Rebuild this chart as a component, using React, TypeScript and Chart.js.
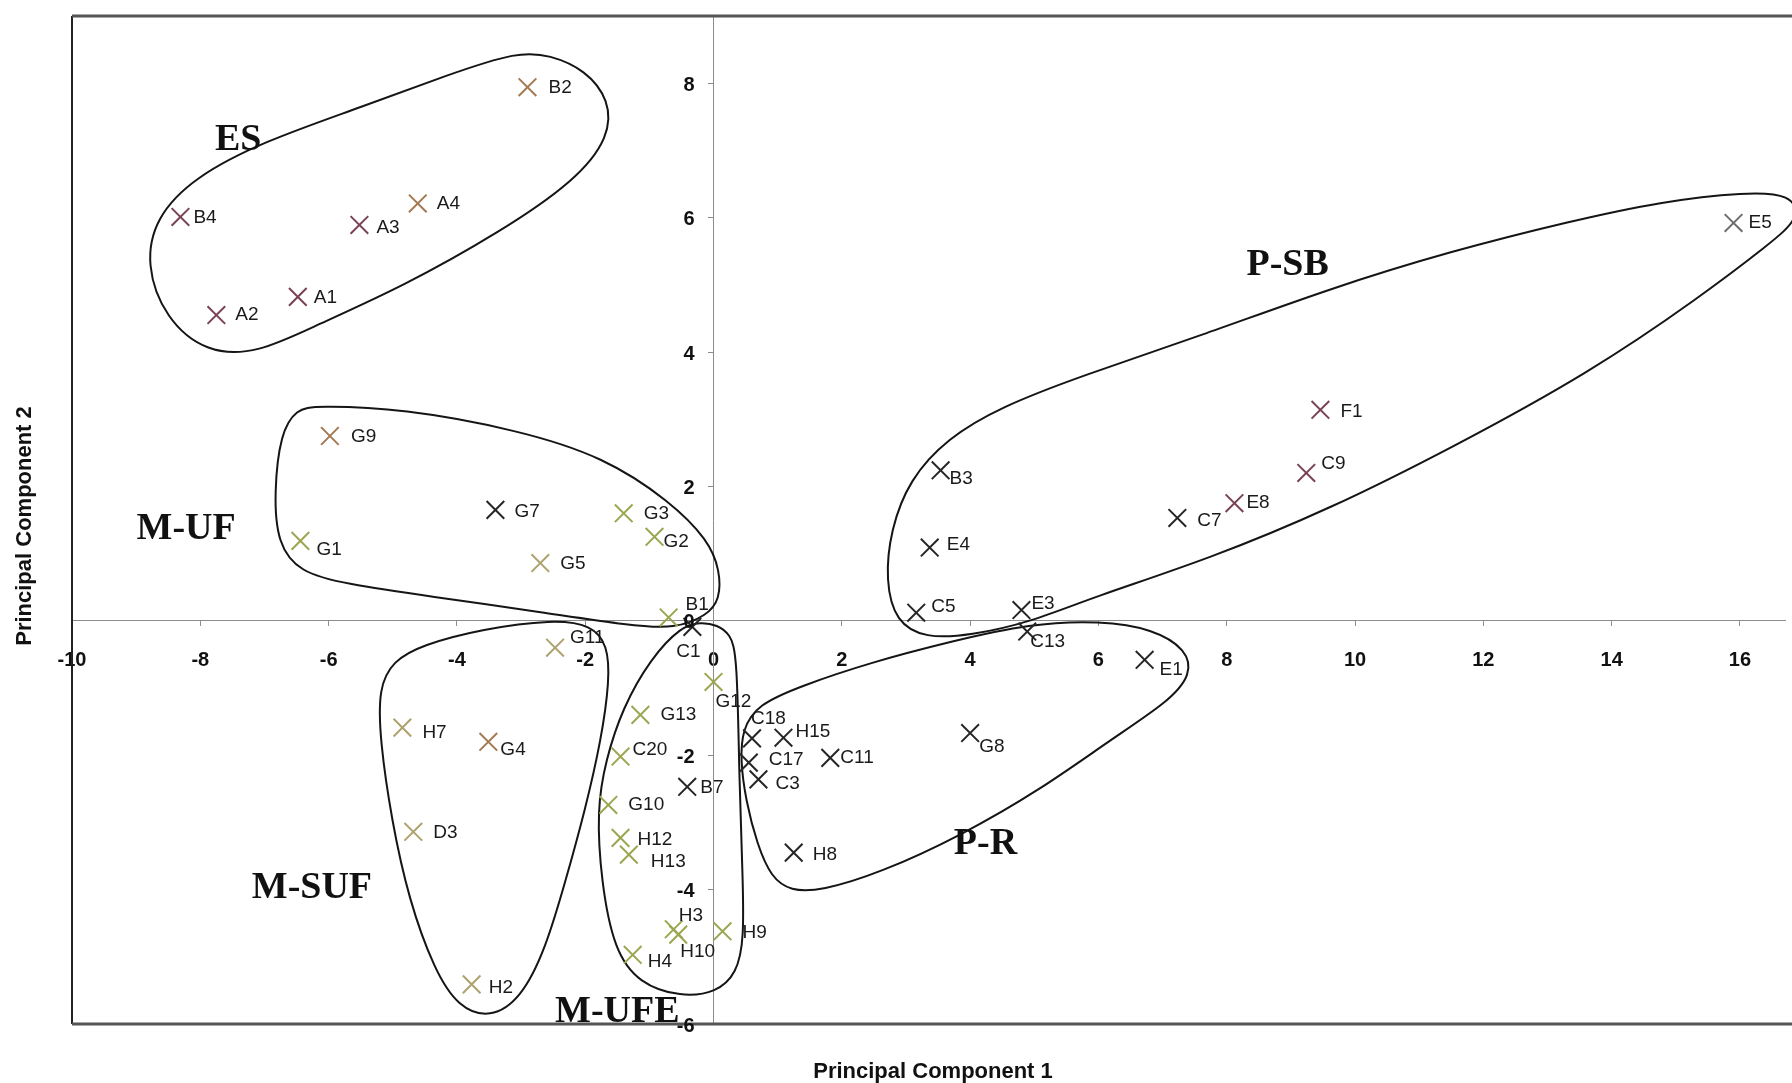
import React, { useEffect, useRef } from 'react';
import { Chart, registerables } from 'chart.js';

Chart.register(...registerables);

const SANS = "'Liberation Sans', Arial, sans-serif";
const SERIF = "'Liberation Serif', 'Times New Roman', serif";

// ---------- data (PC1 = x, PC2 = y) ----------
const mauveLabels = ['B4', 'A2', 'A1', 'A3', 'E8', 'C9', 'F1'];
const mauvePC1 = [-8.31, -7.75, -6.48, -5.52, 8.12, 9.24, 9.46];
const mauvePC2 = [6.01, 4.55, 4.82, 5.89, 1.75, 2.2, 3.14];

const brownLabels = ['B2', 'A4', 'G9', 'G4'];
const brownPC1 = [-2.9, -4.61, -5.98, -3.51];
const brownPC2 = [7.94, 6.21, 2.75, -1.8];

const khakiLabels = ['G5', 'G11', 'H7', 'D3', 'H2'];
const khakiPC1 = [-2.7, -2.47, -4.85, -4.68, -3.77];
const khakiPC2 = [0.86, -0.4, -1.59, -3.14, -5.41];

const oliveLabels = ['G1', 'G3', 'G2', 'B1', 'G12', 'G13', 'C20', 'G10', 'H12', 'H13', 'H3', 'H10', 'H9', 'H4'];
const olivePC1 = [-6.44, -1.4, -0.92, -0.7, 0.0, -1.14, -1.45, -1.64, -1.45, -1.32, -0.62, -0.55, 0.14, -1.26];
const olivePC2 = [1.19, 1.6, 1.25, 0.05, -0.91, -1.4, -2.02, -2.74, -3.23, -3.48, -4.59, -4.67, -4.62, -4.97];

const darkLabels = ['G7', 'C1', 'B7', 'C18', 'H15', 'C17', 'C3', 'C11', 'H8', 'G8', 'E1', 'C13', 'E3', 'C5', 'E4', 'B3', 'C7'];
const darkPC1 = [-3.4, -0.33, -0.41, 0.6, 1.09, 0.55, 0.7, 1.82, 1.25, 4.0, 6.72, 4.89, 4.8, 3.16, 3.37, 3.54, 7.23];
const darkPC2 = [1.65, -0.09, -2.47, -1.75, -1.74, -2.11, -2.36, -2.04, -3.45, -1.67, -0.58, -0.16, 0.16, 0.12, 1.09, 2.24, 1.53];

const grayLabels = ['E5'];
const grayPC1 = [15.9];
const grayPC2 = [5.92];

// ---------- group annotations ----------
const groupNames = ['ES', 'M-UF', 'M-SUF', 'M-UFE', 'P-SB', 'P-R'];
const groupPC1 = [-7.41, -8.22, -6.26, -1.5, 8.95, 4.24];
const groupPC2 = [7.15, 1.37, -3.98, -5.83, 5.29, -3.33];

const esOutline: [number, number][] = [
  [-2.55, 8.42], [-2.0, 8.2], [-1.62, 7.75], [-1.62, 7.2], [-2.15, 6.55], [-3.3, 5.8], [-4.85, 4.97],
  [-6.19, 4.4], [-7.1, 3.98], [-7.9, 3.98], [-8.55, 4.5], [-8.85, 5.3], [-8.7, 6.0],
  [-8.1, 6.6], [-7.0, 7.14], [-5.56, 7.62], [-4.1, 8.14], [-3.05, 8.47],
];
const mufOutline: [number, number][] = [
  [-6.2, 3.2], [-4.85, 3.16], [-3.05, 2.84], [-1.71, 2.44], [-0.68, 1.78], [-0.08, 1.2],
  [0.1, 0.75], [0.1, 0.32], [-0.1, 0.08], [-0.6, -0.12], [-1.3, -0.07], [-2.62, 0.12],
  [-4.39, 0.36], [-5.75, 0.55], [-6.45, 0.72], [-6.8, 1.15], [-6.85, 1.9], [-6.75, 2.8], [-6.5, 3.15],
];
const msufOutline: [number, number][] = [
  [-2.5, 0.02], [-1.9, -0.06], [-1.65, -0.36], [-1.62, -0.88], [-1.75, -1.77], [-2.0, -2.81],
  [-2.3, -3.85], [-2.62, -4.89], [-3.0, -5.62], [-3.48, -5.92], [-3.98, -5.75], [-4.35, -5.2],
  [-4.75, -4.15], [-5.02, -2.96], [-5.2, -1.77], [-5.22, -1.0], [-5.0, -0.6], [-4.55, -0.36], [-3.6, -0.12],
];
const mufeOutline: [number, number][] = [
  [-0.5, -0.08], [-0.98, -0.56], [-1.42, -1.3], [-1.68, -2.07], [-1.82, -2.81], [-1.75, -3.89],
  [-1.55, -4.9], [-1.16, -5.4], [-0.51, -5.6], [0.05, -5.53], [0.36, -5.25], [0.48, -4.74],
  [0.45, -3.66], [0.4, -2.36], [0.37, -0.5], [0.26, -0.2], [0.06, -0.06], [-0.2, -0.02],
];
const prOutline: [number, number][] = [
  [0.45, -1.62], [0.68, -1.25], [1.36, -0.97], [2.45, -0.62], [3.69, -0.31], [4.94, -0.04],
  [6.03, 0.0], [6.85, -0.12], [7.38, -0.43], [7.45, -0.8], [7.1, -1.2], [6.19, -1.77],
  [5.1, -2.51], [3.85, -3.2], [2.6, -3.75], [1.67, -4.02], [1.2, -4.02], [0.9, -3.82],
  [0.68, -3.33], [0.5, -2.66], [0.42, -2.07],
];
const psbOutline: [number, number][] = [
  [16.1, 6.38], [14.77, 6.24], [13.37, 5.95], [11.49, 5.5], [9.62, 4.95], [7.59, 4.24],
  [5.72, 3.64], [4.47, 3.18], [3.65, 2.72], [3.05, 2.1], [2.76, 1.35], [2.68, 0.6],
  [2.84, -0.02], [3.3, -0.26], [4.0, -0.22], [4.94, -0.02], [5.88, 0.34], [7.75, 0.93],
  [9.62, 1.67], [11.5, 2.57], [13.67, 3.7], [15.38, 4.82], [16.45, 5.6], [16.95, 6.0], [16.8, 6.35],
];
const outlines = [esOutline, mufOutline, msufOutline, mufeOutline, prOutline, psbOutline];

const xTitle = 'Principal Component 1';
const yTitle = 'Principal Component 2';

// label placement (pixel offset of label's left/middle from the marker)
const labelOffsets: Record<string, [number, number]> = {
  B4: [13, 1], A2: [19, 0], A1: [16, 1], A3: [17, 3], A4: [19, 0], B2: [21, 1],
  G9: [21, 1], G7: [19, 2], G3: [20, 0], G2: [9, 5], G1: [16, 9], G5: [20, 1],
  B1: [17, -13], C1: [-16, 25], G12: [2, 20], G11: [15, -10], G13: [20, 0], C20: [12, -7],
  B7: [13, 1], G10: [20, 0], C18: [-1, -20], H15: [12, -6], C11: [10, 0], C17: [20, -3],
  C3: [17, 4], H12: [17, 2], H13: [22, 7], H3: [5, -13], H10: [2, 17], H9: [20, 2],
  H4: [15, 7], H8: [19, 2], H7: [20, 5], G4: [12, 8], D3: [20, 1], H2: [17, 3],
  B3: [9, 8], E4: [17, -3], C5: [15, -6], E3: [10, -6], C13: [3, 10], E1: [15, 10],
  G8: [9, 14], E8: [12, 0], C7: [20, 3], F1: [20, 2], C9: [15, -9], E5: [15, 0],
};

function series(labels: string[], xs: number[], ys: number[], color: string) {
  return {
    label: color,
    names: labels,
    data: xs.map((x, i) => ({ x, y: ys[i] })),
    pointStyle: 'crossRot',
    pointRadius: 12.5,
    pointBorderWidth: 2,
    borderColor: color,
    backgroundColor: color,
    showLine: false,
  };
}

// closed uniform cubic B-spline through the control polygon (smooth outline)
function closedSpline(ctx: CanvasRenderingContext2D, pts: [number, number][]) {
  const n = pts.length;
  const at = (i: number) => pts[((i % n) + n) % n];
  const start = (i: number) => {
    const a = at(i - 1), b = at(i), c = at(i + 1);
    return [(a[0] + 4 * b[0] + c[0]) / 6, (a[1] + 4 * b[1] + c[1]) / 6];
  };
  ctx.beginPath();
  const s0 = start(0);
  ctx.moveTo(s0[0], s0[1]);
  for (let i = 0; i < n; i++) {
    const p1 = at(i), p2 = at(i + 1);
    const e = start(i + 1);
    ctx.bezierCurveTo(
      (2 * p1[0] + p2[0]) / 3, (2 * p1[1] + p2[1]) / 3,
      (p1[0] + 2 * p2[0]) / 3, (p1[1] + 2 * p2[1]) / 3,
      e[0], e[1]
    );
  }
  ctx.closePath();
  ctx.stroke();
}

const decorPlugin = {
  id: 'decor',
  beforeDatasetsDraw(chart: any) {
    const { ctx, chartArea: ca, scales } = chart;
    const xs = scales.x, ys = scales.y;
    ctx.save();
    ctx.strokeStyle = '#151515';
    ctx.lineWidth = 2;
    ctx.lineJoin = 'round';
    outlines.forEach((o) => {
      closedSpline(ctx, o.map(([x, y]) => [xs.getPixelForValue(x), ys.getPixelForValue(y)] as [number, number]));
    });
    // frame
    ctx.strokeStyle = '#222';
    ctx.lineWidth = 2;
    ctx.beginPath();
    ctx.moveTo(ca.left, ca.top);
    ctx.lineTo(ca.left, ca.bottom);
    ctx.stroke();
    ctx.strokeStyle = '#555';
    ctx.lineWidth = 3;
    ctx.beginPath();
    ctx.moveTo(ca.left, ca.top);
    ctx.lineTo(chart.width, ca.top);
    ctx.moveTo(ca.left, ca.bottom);
    ctx.lineTo(chart.width, ca.bottom);
    ctx.stroke();
    ctx.restore();
  },
  afterDatasetsDraw(chart: any) {
    const { ctx, scales } = chart;
    const xs = scales.x, ys = scales.y;
    ctx.save();
    ctx.fillStyle = '#1a1a1a';
    ctx.font = `19px ${SANS}`;
    ctx.textAlign = 'left';
    ctx.textBaseline = 'middle';
    chart.data.datasets.forEach((ds: any, di: number) => {
      const meta = chart.getDatasetMeta(di);
      meta.data.forEach((el: any, i: number) => {
        const name = ds.names[i];
        const off = labelOffsets[name] || [15, 2];
        ctx.fillText(name, el.x + off[0], el.y + off[1]);
      });
    });
    // y tick labels
    const x0 = xs.getPixelForValue(0);
    ctx.font = `bold 20px ${SANS}`;
    ctx.textAlign = 'right';
    ctx.fillStyle = '#111';
    ys.ticks.forEach((t: any) => {
      ctx.fillText(String(t.value), x0 - 19, ys.getPixelForValue(t.value) + 2);
    });
    // group labels
    ctx.font = `bold 38px ${SERIF}`;
    ctx.textAlign = 'center';
    ctx.fillStyle = '#111';
    groupNames.forEach((g, i) => {
      ctx.fillText(g, xs.getPixelForValue(groupPC1[i]), ys.getPixelForValue(groupPC2[i]));
    });
    // axis titles
    ctx.font = `bold 22px ${SANS}`;
    ctx.fillText(xTitle, 933, 1072);
    ctx.translate(25, 526);
    ctx.rotate(-Math.PI / 2);
    ctx.fillText(yTitle, 0, 0);
    ctx.restore();
  },
};

export default function App() {
  const ref = useRef<HTMLCanvasElement>(null);
  useEffect(() => {
    if (!ref.current) return;
    const chart = new Chart(ref.current, {
      type: 'scatter',
      data: {
        datasets: [
          series(mauveLabels, mauvePC1, mauvePC2, '#7a4256'),
          series(brownLabels, brownPC1, brownPC2, '#a47a52'),
          series(khakiLabels, khakiPC1, khakiPC2, '#aea26e'),
          series(oliveLabels, olivePC1, olivePC2, '#9ca650'),
          series(darkLabels, darkPC1, darkPC2, '#262626'),
          series(grayLabels, grayPC1, grayPC2, '#6e6e6e'),
        ] as any,
      },
      options: {
        animation: false,
        responsive: false,
        devicePixelRatio: 1,
        events: [],
        layout: { padding: { left: 72, right: 0, top: 16, bottom: 59 } },
        plugins: { legend: { display: false }, tooltip: { enabled: false } },
        scales: {
          x: {
            type: 'linear',
            min: -10,
            max: 16.71,
            position: { y: 0 } as any,
            border: { display: true, color: '#8c8c8c', width: 1 },
            grid: { drawOnChartArea: false, drawTicks: true, tickLength: 5, color: '#8c8c8c' },
            ticks: {
              stepSize: 2,
              includeBounds: false,
              autoSkip: false,
              maxRotation: 0,
              padding: 23,
              color: '#111',
              font: { family: SANS, size: 20, weight: 'bold' },
            },
          },
          y: {
            type: 'linear',
            min: -6,
            max: 9,
            position: { x: 0 } as any,
            border: { display: true, color: '#8c8c8c', width: 1 },
            grid: { drawOnChartArea: false, drawTicks: true, tickLength: 5, color: '#8c8c8c' },
            ticks: { stepSize: 2, includeBounds: false, display: false },
          },
        },
      },
      plugins: [decorPlugin],
    });
    return () => chart.destroy();
  }, []);
  return (
    <div style={{ position: 'fixed', left: 0, top: 0, width: 1792, height: 1083, overflow: 'hidden', background: '#fff' }}>
      <canvas ref={ref} width={1800} height={1083} style={{ display: 'block', width: 1800, height: 1083 }} />
    </div>
  );
}
